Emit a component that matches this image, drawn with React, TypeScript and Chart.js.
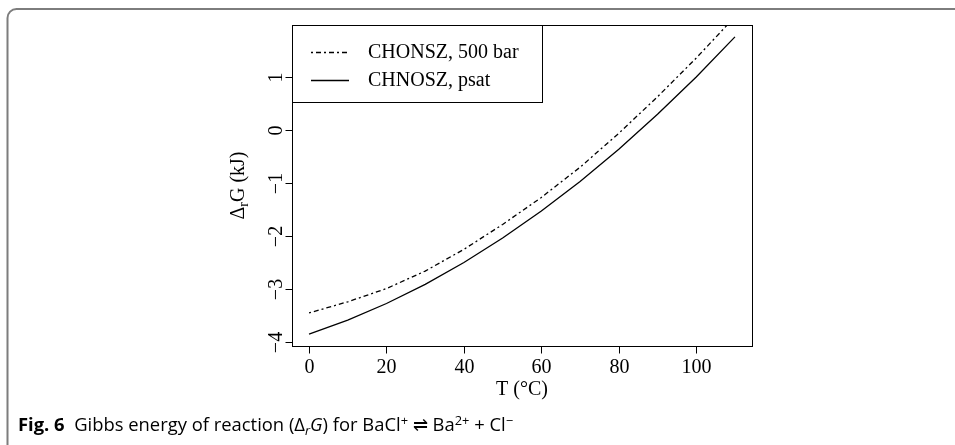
import React, { useEffect, useRef } from "react";
import { Chart, registerables } from "chart.js";

Chart.register(...registerables);

// ---- data ----
const TEMPS = [0, 10, 20, 30, 40, 50, 60, 70, 80, 90, 100, 110];
const G_500BAR = [-3.45, -3.24, -2.99, -2.66, -2.25, -1.78, -1.27, -0.7, -0.06, 0.63, 1.36, 2.14];
const G_PSAT = [-3.85, -3.586, -3.272, -2.91, -2.498, -2.037, -1.527, -0.968, -0.36, 0.298, 1.004, 1.76];
const SERIES_LABELS = ["CHONSZ, 500 bar", "CHNOSZ, psat"];
const X_TICKS = [0, 20, 40, 60, 80, 100];
const Y_TICKS = [-4, -3, -2, -1, 0, 1];
const X_TITLE = "T (°C)";

const SERIF = '"Liberation Serif", "Times New Roman", serif';

const framePlugin = {
  id: "pageFrame",
  beforeDraw(chart: any) {
    const { ctx, width, height } = chart;
    ctx.save();
    ctx.lineWidth = 2;
    ctx.strokeStyle = "#7d7d7d";
    const r = 9;
    ctx.beginPath();
    ctx.moveTo(7.5, height + 5);
    ctx.lineTo(7.5, 9 + r);
    ctx.arcTo(7.5, 9, 7.5 + r, 9, r);
    ctx.lineTo(width + 5, 9);
    ctx.stroke();
    ctx.restore();
  },
};

const rPlotPlugin = {
  id: "rPlot",
  afterDatasetsDraw(chart: any) {
    const { ctx, chartArea: a, scales } = chart;
    const xs = scales.x;
    const ys = scales.y;
    ctx.save();
    ctx.strokeStyle = "#000";
    ctx.fillStyle = "#000";
    ctx.lineWidth = 1;
    const L = Math.round(a.left) + 0.5;
    const R = Math.round(a.right) + 0.5;
    const T = Math.round(a.top) + 0.5;
    const B = Math.round(a.bottom) + 0.5;
    ctx.strokeRect(L, T, R - L, B - T);

    ctx.font = `20px ${SERIF}`;
    // x ticks
    ctx.textAlign = "center";
    ctx.textBaseline = "alphabetic";
    X_TICKS.forEach((v) => {
      const px = Math.round(xs.getPixelForValue(v)) + 0.5;
      ctx.beginPath();
      ctx.moveTo(px, B);
      ctx.lineTo(px, B + 7);
      ctx.stroke();
      ctx.fillText(String(v), px, B + 26);
    });
    // y ticks
    Y_TICKS.forEach((v) => {
      const py = Math.round(ys.getPixelForValue(v)) + 0.5;
      ctx.beginPath();
      ctx.moveTo(L, py);
      ctx.lineTo(L - 7, py);
      ctx.stroke();
      ctx.save();
      ctx.translate(L - 11, py);
      ctx.rotate(-Math.PI / 2);
      ctx.textAlign = "center";
      ctx.fillText(v < 0 ? "\u2212" + Math.abs(v) : String(v), 0, 0);
      ctx.restore();
    });
    // x title
    ctx.textAlign = "center";
    ctx.fillText(X_TITLE, (a.left + a.right) / 2, B + 48);
    // y title with subscript
    ctx.save();
    ctx.translate(L - 49, (a.top + a.bottom) / 2);
    ctx.rotate(-Math.PI / 2);
    const p1 = "\u0394";
    const p3 = "G (kJ)";
    ctx.font = `20px ${SERIF}`;
    const w1 = ctx.measureText(p1).width;
    const w3 = ctx.measureText(p3).width;
    ctx.font = `14px ${SERIF}`;
    const w2 = ctx.measureText("r").width;
    const total = w1 + w2 + w3;
    let cx = -total / 2;
    ctx.textAlign = "left";
    ctx.font = `20px ${SERIF}`;
    ctx.fillText(p1, cx, 0);
    cx += w1;
    ctx.font = `14px ${SERIF}`;
    ctx.fillText("r", cx, 4);
    cx += w2;
    ctx.font = `20px ${SERIF}`;
    ctx.fillText(p3, cx, 0);
    ctx.restore();

    // legend
    const lgL = L;
    const lgT = T;
    const lgR = Math.round(a.left + 250) + 0.5;
    const lgB = Math.round(a.top + 77) + 0.5;
    ctx.fillStyle = "#fff";
    ctx.fillRect(lgL, lgT, lgR - lgL, lgB - lgT);
    ctx.strokeStyle = "#000";
    ctx.lineWidth = 1;
    ctx.strokeRect(lgL, lgT, lgR - lgL, lgB - lgT);
    const rows = [a.top + 27, a.top + 55];
    chart.data.datasets.forEach((ds: any, i: number) => {
      const ry = Math.round(rows[i]) + 0.5;
      ctx.save();
      ctx.strokeStyle = ds.borderColor;
      ctx.lineWidth = ds.borderWidth;
      ctx.setLineDash(ds.borderDash || []);
      ctx.beginPath();
      ctx.moveTo(a.left + 19, ry);
      ctx.lineTo(a.left + 57, ry);
      ctx.stroke();
      ctx.restore();
      ctx.fillStyle = "#000";
      ctx.font = `20px ${SERIF}`;
      ctx.textAlign = "left";
      ctx.textBaseline = "middle";
      ctx.fillText(ds.label, a.left + 76, rows[i] + 1);
    });
    ctx.restore();
  },
};

export default function App() {
  const ref = useRef<HTMLCanvasElement | null>(null);
  useEffect(() => {
    if (!ref.current) return;
    const chart = new Chart(ref.current, {
      type: "line",
      data: {
        datasets: [
          {
            label: SERIES_LABELS[0],
            data: TEMPS.map((t, i) => ({ x: t, y: G_500BAR[i] })),
            borderColor: "#000",
            borderWidth: 1.3,
            borderDash: [2, 3, 5, 3],
            pointRadius: 0,
            fill: false,
            tension: 0,
          },
          {
            label: SERIES_LABELS[1],
            data: TEMPS.map((t, i) => ({ x: t, y: G_PSAT[i] })),
            borderColor: "#000",
            borderWidth: 1.3,
            pointRadius: 0,
            fill: false,
            tension: 0,
          },
        ],
      },
      options: {
        responsive: false,
        animation: false,
        devicePixelRatio: 1,
        layout: { padding: { left: 292, right: 203, top: 25, bottom: 99 } },
        plugins: { legend: { display: false }, tooltip: { enabled: false } },
        scales: {
          x: { type: "linear", min: -4.4, max: 114.4, display: false },
          y: { type: "linear", min: -4.074, max: 1.984, display: false },
        },
      },
      plugins: [framePlugin, rPlotPlugin],
    });
    return () => chart.destroy();
  }, []);

  return (
    <div
      style={{
        position: "fixed",
        left: 0,
        top: 0,
        width: 955,
        height: 445,
        overflow: "hidden",
        background: "#fff",
      }}
    >
      <canvas
        ref={ref}
        width={955}
        height={445}
        style={{ position: "absolute", left: 0, top: 0, width: 955, height: 445 }}
      />
      <div
        style={{
          position: "absolute",
          left: 18,
          top: 414,
          fontFamily: '"Open Sans", sans-serif',
          fontSize: 18.4,
          lineHeight: "20px",
          whiteSpace: "nowrap",
          color: "#000",
        }}
      >
        <b>Fig. 6</b>
        {"\u00a0 Gibbs energy of reaction (\u0394"}
        <sub style={{ fontSize: "0.7em", verticalAlign: "-0.3em", lineHeight: 0 }}>
          <i>r</i>
        </sub>
        <i>G</i>
        {") for BaCl"}
        <sup style={{ fontSize: "0.7em", verticalAlign: "0.5em", lineHeight: 0 }}>+</sup>
        {" \u21cc Ba"}
        <sup style={{ fontSize: "0.7em", verticalAlign: "0.5em", lineHeight: 0 }}>2+</sup>
        {" + Cl"}
        <sup style={{ fontSize: "0.7em", verticalAlign: "0.5em", lineHeight: 0 }}>{"\u2212"}</sup>
      </div>
    </div>
  );
}
